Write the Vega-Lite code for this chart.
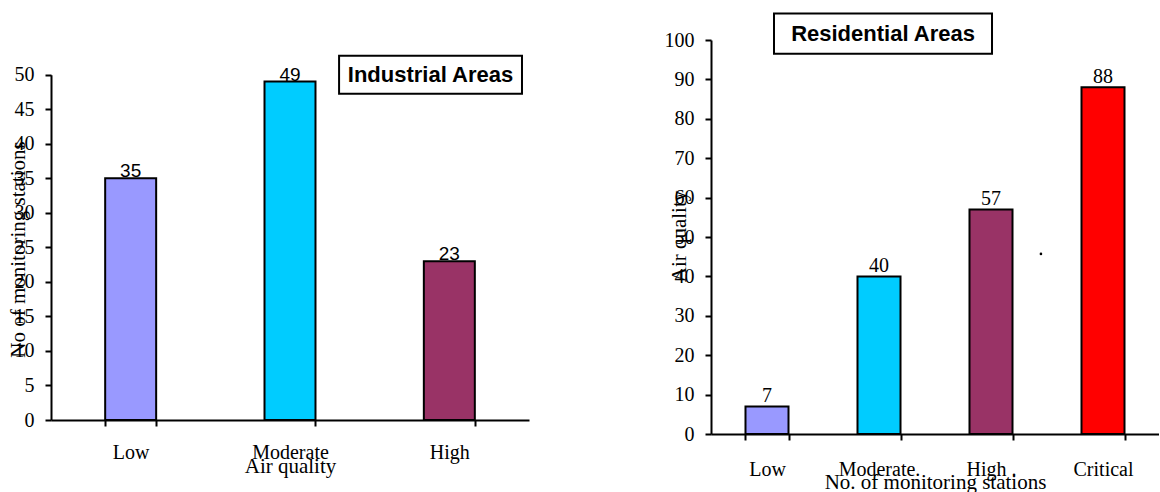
{
  "$schema": "https://vega.github.io/schema/vega-lite/v6.json",
  "padding": {"left": 7, "top": 12, "right": 0, "bottom": 0},
  "background": "white",
  "bounds": "flush",
  "spacing": 182,
  "config": {
    "view": {"stroke": null},
    "axis": {
      "grid": false,
      "domainColor": "black",
      "domainWidth": 2,
      "tickColor": "black",
      "tickWidth": 2,
      "tickSize": 6,
      "labelColor": "black",
      "titleColor": "black",
      "labelFont": "Liberation Serif",
      "titleFont": "Liberation Serif",
      "labelFontSize": 20,
      "titleFontSize": 21,
      "titleFontWeight": "normal",
      "labelOverlap": false
    }
  },
  "resolve": {"scale": {"color": "independent"}},
  "hconcat": [
    {
      "width": 478,
      "height": 380,
      "layer": [
        {
          "data": {"values": [
            {"quality": "Low", "stations": 35},
            {"quality": "Moderate", "stations": 49},
            {"quality": "High", "stations": 23}
          ]},
          "layer": [
            {
              "mark": {"type": "bar", "stroke": "black", "strokeWidth": 2},
              "encoding": {
                "x": {"field": "quality", "type": "nominal", "sort": null,
                  "scale": {"paddingInner": 0.68, "paddingOuter": 0.34},
                  "axis": {"title": "Air quality", "labelAngle": 0, "tickBand": "extent", "labelPadding": 32, "labelBaseline": "alphabetic", "titleY": 52.7, "titleBaseline": "alphabetic"}},
                "y": {"field": "stations", "type": "quantitative",
                  "scale": {"domain": [0, 50], "range": [380, 34.7], "nice": false},
                  "axis": {"values": [0, 5, 10, 15, 20, 25, 30, 35, 40, 45, 50], "tickCount": 11, "title": "No of monitoring stations", "titleX": -27, "titleY": 209, "titleBaseline": "alphabetic", "titleAngle": -90, "titleAlign": "center", "labelPadding": 11}},
                "color": {"field": "quality", "type": "nominal",
                  "scale": {"domain": ["Low", "Moderate", "High"], "range": ["#9999ff", "#00ccff", "#993366"]},
                  "legend": null}
              }
            },
            {
              "mark": {"type": "text", "font": "Liberation Sans", "fontSize": 19, "baseline": "alphabetic", "dy": -1, "color": "black"},
              "encoding": {
                "x": {"field": "quality", "type": "nominal", "sort": null},
                "y": {"field": "stations", "type": "quantitative",
                  "axis": {"values": [0, 5, 10, 15, 20, 25, 30, 35, 40, 45, 50], "tickCount": 11, "title": "No of monitoring stations", "titleX": -27, "titleY": 209, "titleBaseline": "alphabetic", "titleAngle": -90, "titleAlign": "center", "labelPadding": 11}},
                "text": {"field": "stations", "type": "quantitative"}
              }
            }
          ]
        },
        {
          "data": {"values": [{}]},
          "layer": [
            {
              "mark": {"type": "rect", "fill": "white", "stroke": "black", "strokeWidth": 2},
              "encoding": {
                "x": {"datum": 1.808, "type": "quantitative", "scale": {"domain": [0, 3], "nice": false, "zero": false}, "axis": null},
                "x2": {"datum": 2.956},
                "y": {"datum": 52.75, "type": "quantitative",
                  "axis": {"values": [0, 5, 10, 15, 20, 25, 30, 35, 40, 45, 50], "tickCount": 11, "title": "No of monitoring stations", "titleX": -27, "titleY": 209, "titleBaseline": "alphabetic", "titleAngle": -90, "titleAlign": "center", "labelPadding": 11}},
                "y2": {"datum": 47.25}
              }
            },
            {
              "mark": {"type": "text", "text": "Industrial Areas", "font": "Liberation Sans", "fontWeight": "bold", "fontSize": 22, "baseline": "middle", "align": "center", "color": "black"},
              "encoding": {
                "x": {"datum": 2.382, "type": "quantitative", "scale": {"domain": [0, 3], "nice": false, "zero": false}, "axis": null},
                "y": {"datum": 50, "type": "quantitative",
                  "axis": {"values": [0, 5, 10, 15, 20, 25, 30, 35, 40, 45, 50], "tickCount": 11, "title": "No of monitoring stations", "titleX": -27, "titleY": 209, "titleBaseline": "alphabetic", "titleAngle": -90, "titleAlign": "center", "labelPadding": 11}}
              }
            }
          ]
        }
      ],
      "resolve": {"scale": {"x": "independent"}}
    },
    {
      "width": 448,
      "height": 394,
      "layer": [
        {
          "data": {"values": [
            {"quality": "Low", "stations": 7},
            {"quality": "Moderate.", "stations": 40},
            {"quality": "High .", "stations": 57},
            {"quality": "Critical", "stations": 88}
          ]},
          "layer": [
            {
              "mark": {"type": "bar", "stroke": "black", "strokeWidth": 2},
              "encoding": {
                "x": {"field": "quality", "type": "nominal", "sort": null,
                  "scale": {"paddingInner": 0.616, "paddingOuter": 0.308},
                  "axis": {"title": "No. of monitoring stations", "labelAngle": 0, "tickBand": "extent", "labelPadding": 35, "labelBaseline": "alphabetic", "titleY": 54, "titleBaseline": "alphabetic"}},
                "y": {"field": "stations", "type": "quantitative",
                  "scale": {"domain": [0, 100], "nice": false},
                  "axis": {"values": [0, 10, 20, 30, 40, 50, 60, 70, 80, 90, 100], "tickCount": 11, "title": "Air quality", "titleX": -26, "titleY": 196, "titleBaseline": "alphabetic", "titleAngle": -90, "titleAlign": "center", "labelPadding": 11}},
                "color": {"field": "quality", "type": "nominal",
                  "scale": {"domain": ["Low", "Moderate.", "High .", "Critical"], "range": ["#9999ff", "#00ccff", "#993366", "#ff0000"]},
                  "legend": null}
              }
            },
            {
              "mark": {"type": "text", "font": "Liberation Serif", "fontSize": 20, "baseline": "alphabetic", "dy": -4, "color": "black"},
              "encoding": {
                "x": {"field": "quality", "type": "nominal", "sort": null},
                "y": {"field": "stations", "type": "quantitative",
                  "axis": {"values": [0, 10, 20, 30, 40, 50, 60, 70, 80, 90, 100], "tickCount": 11, "title": "Air quality", "titleX": -26, "titleY": 196, "titleBaseline": "alphabetic", "titleAngle": -90, "titleAlign": "center", "labelPadding": 11}},
                "text": {"field": "stations", "type": "quantitative"}
              }
            }
          ]
        },
        {
          "data": {"values": [{}]},
          "layer": [
            {
              "mark": {"type": "rect", "fill": "white", "stroke": "black", "strokeWidth": 2},
              "encoding": {
                "x": {"datum": 0.5625, "type": "quantitative", "scale": {"domain": [0, 4], "nice": false, "zero": false}, "axis": null},
                "x2": {"datum": 2.509},
                "y": {"datum": 106.7, "type": "quantitative",
                  "axis": {"values": [0, 10, 20, 30, 40, 50, 60, 70, 80, 90, 100], "tickCount": 11, "title": "Air quality", "titleX": -26, "titleY": 196, "titleBaseline": "alphabetic", "titleAngle": -90, "titleAlign": "center", "labelPadding": 11}},
                "y2": {"datum": 96.5}
              }
            },
            {
              "mark": {"type": "text", "text": "Residential Areas", "font": "Liberation Sans", "fontWeight": "bold", "fontSize": 22, "baseline": "middle", "align": "center", "color": "black"},
              "encoding": {
                "x": {"datum": 1.536, "type": "quantitative", "scale": {"domain": [0, 4], "nice": false, "zero": false}, "axis": null},
                "y": {"datum": 101.6, "type": "quantitative",
                  "axis": {"values": [0, 10, 20, 30, 40, 50, 60, 70, 80, 90, 100], "tickCount": 11, "title": "Air quality", "titleX": -26, "titleY": 196, "titleBaseline": "alphabetic", "titleAngle": -90, "titleAlign": "center", "labelPadding": 11}}
              }
            },
            {
              "mark": {"type": "circle", "size": 7, "color": "black", "opacity": 1},
              "encoding": {
                "x": {"datum": 2.946, "type": "quantitative", "scale": {"domain": [0, 4], "nice": false, "zero": false}, "axis": null},
                "y": {"datum": 45.7, "type": "quantitative",
                  "axis": {"values": [0, 10, 20, 30, 40, 50, 60, 70, 80, 90, 100], "tickCount": 11, "title": "Air quality", "titleX": -26, "titleY": 196, "titleBaseline": "alphabetic", "titleAngle": -90, "titleAlign": "center", "labelPadding": 11}}
              }
            }
          ]
        }
      ],
      "resolve": {"scale": {"x": "independent"}}
    }
  ]
}
